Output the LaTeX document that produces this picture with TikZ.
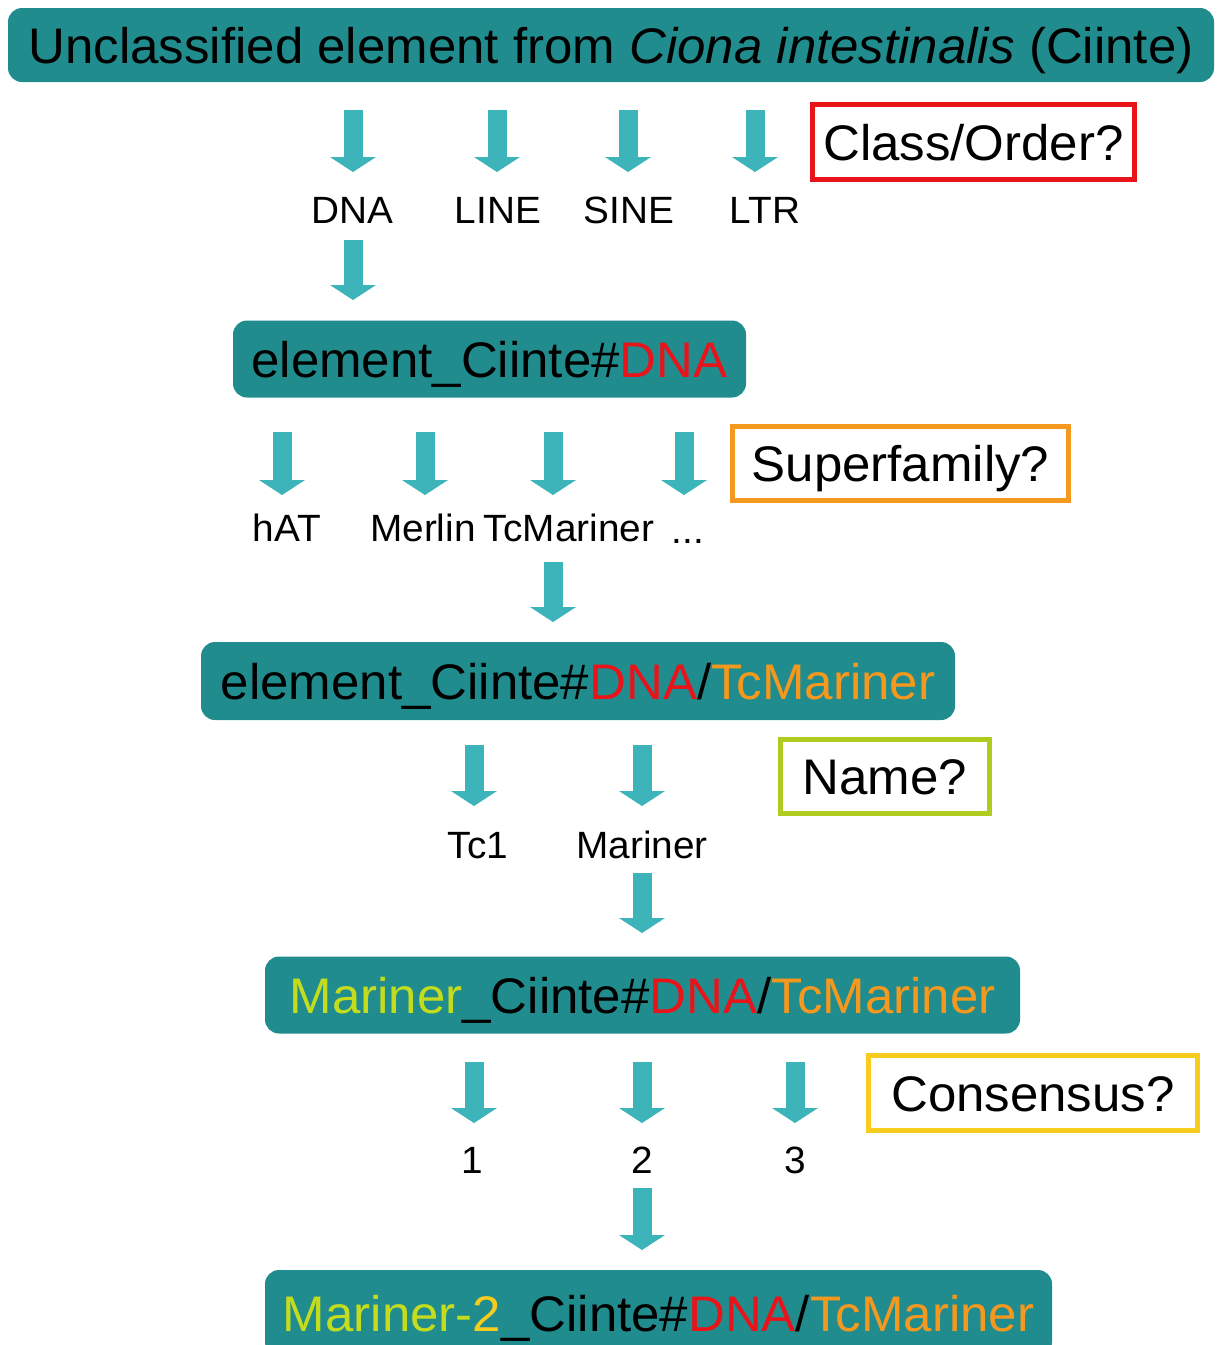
\documentclass[tikz,border=0pt]{standalone}
\usepackage{fontspec}
\setmainfont[FakeStretch=1.02]{Liberation Sans}
\usetikzlibrary{arrows.meta}
\definecolor{boxteal}{RGB}{33,140,142}
\definecolor{arrowteal}{RGB}{60,180,185}
\definecolor{dnared}{RGB}{232,20,26}
\definecolor{sforange}{RGB}{245,152,30}
\definecolor{namegreen}{RGB}{196,220,30}
\definecolor{consyellow}{RGB}{248,204,28}
\definecolor{nameframe}{RGB}{176,204,30}
\begin{document}
\begin{tikzpicture}[x=1pt,y=-1pt,
  tealbox/.style={fill=boxteal, rounded corners=14pt, inner sep=0pt,
    font=\fontsize{50}{60}\selectfont, text height=36pt, text depth=0pt},
  qbox/.style={draw, line width=5pt, fill=white, inner sep=0pt,
    font=\fontsize{50}{60}\selectfont, text height=36pt, text depth=0pt},
  lbl/.style={font=\fontsize{38}{46}\selectfont, text height=27pt, text depth=0pt, inner sep=0pt},
  barrow/.style={draw=arrowteal, line width=19pt,
    -{Triangle[width=46pt,length=15pt,line width=0pt,fill=arrowteal]}}]
\clip (0,0) rectangle (1218,1345);
\fill[white] (0,0) rectangle (1218,1345);

% main boxes
\node[tealbox, minimum width=1206pt, minimum height=74pt] (b1) at (611,45)
  {Unclassified element from \textit{Ciona intestinalis} (Ciinte)};
\node[tealbox, minimum width=513pt, minimum height=77pt] (b2) at (489.5,359)
  {element\_Ciinte\#{\color{dnared}DNA}};
\node[tealbox, minimum width=754pt, minimum height=78pt] (b3) at (578,681)
  {element\_Ciinte\#{\color{dnared}DNA}/{\color{sforange}TcMariner}};
\node[tealbox, minimum width=755pt, minimum height=77pt] (b4) at (642.5,995)
  {{\color{namegreen}Mariner}\_Ciinte\#{\color{dnared}DNA}/{\color{sforange}TcMariner}};
\node[tealbox, minimum width=787pt, minimum height=86pt] (b5) at (658.5,1313)
  {{\color{namegreen}Mariner-}{\color{consyellow}2}\_Ciinte\#{\color{dnared}DNA}/{\color{sforange}TcMariner}};

% question boxes
\node[qbox, draw=dnared, minimum width=322pt, minimum height=75pt] (q1) at (973.5,142) {Class/Order?};
\node[qbox, draw=sforange, minimum width=336pt, minimum height=74pt] (q2) at (900.5,463.5) {Superfamily?};
\node[qbox, draw=nameframe, minimum width=209pt, minimum height=74pt] (q3) at (885,776.5) {Name?};
\node[qbox, draw=consyellow, minimum width=329pt, minimum height=75pt] (q4) at (1033,1093) {Consensus?};

% labels
\node[lbl] (lDNA) at (352,210) {DNA};
\node[lbl] (lLINE) at (498,210) {LINE};
\node[lbl] (lSINE) at (629,210) {SINE};
\node[lbl] (lLTR) at (765,210) {LTR};
\node[lbl] (lhAT) at (287,528) {hAT};
\node[lbl] (lMerlin) at (423,528) {Merlin};
\node[lbl] (lTc) at (569,528) {TcMariner};
\node[lbl] (ldots) at (688,530) {...};
\node[lbl] (lTcOne) at (478,845) {Tc1};
\node[lbl] (lMar) at (642,845) {Mariner};
\node[lbl] (lOne) at (472,1160) {1};
\node[lbl] (lTwo) at (642,1160) {2};
\node[lbl] (lThree) at (795,1160) {3};

% arrow end points
\foreach \n/\x in {r1a/353, r1b/497, r1c/628, r1d/755}{
  \coordinate (\n s) at (\x,110); \coordinate (\n e) at (\x,172);}
\foreach \n/\x in {r2a/282, r2b/425, r2c/553, r2d/684}{
  \coordinate (\n s) at (\x,432); \coordinate (\n e) at (\x,495);}
\foreach \n/\x in {r3a/474, r3b/642}{
  \coordinate (\n s) at (\x,745); \coordinate (\n e) at (\x,806);}
\foreach \n/\x in {r4a/474, r4b/642, r4c/795}{
  \coordinate (\n s) at (\x,1062); \coordinate (\n e) at (\x,1123);}
\coordinate (d1s) at (353,240); \coordinate (d1e) at (353,300);
\coordinate (d2s) at (553,562); \coordinate (d2e) at (553,622);
\coordinate (d3s) at (642,873); \coordinate (d3e) at (642,933);
\coordinate (d4s) at (642,1188); \coordinate (d4e) at (642,1250);

\foreach \n in {r1a,r1b,r1c,r1d,r2a,r2b,r2c,r2d,r3a,r3b,r4a,r4b,r4c,d1,d2,d3,d4}
  \draw[barrow] (\n s) -- (\n e);
\end{tikzpicture}
\end{document}
